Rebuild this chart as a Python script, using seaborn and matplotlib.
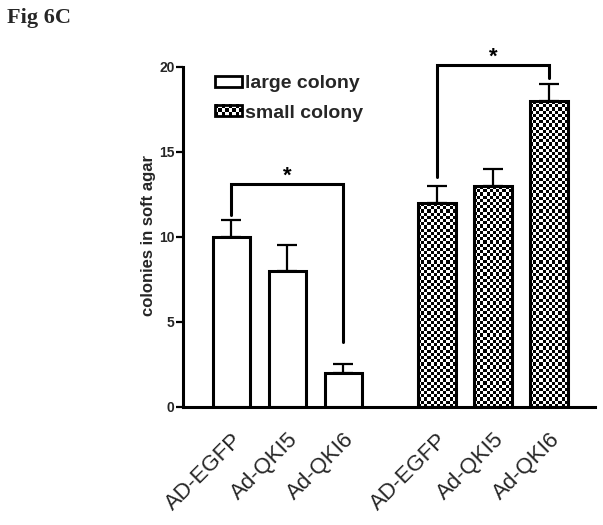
import numpy as np
import matplotlib
matplotlib.use("Agg")
import matplotlib.pyplot as plt
import seaborn as sns
from matplotlib.patches import Patch, Rectangle
from matplotlib.legend_handler import HandlerPatch
from matplotlib.image import BboxImage
from matplotlib.transforms import Bbox, TransformedBbox

sns.set_theme(style="white")
plt.rcParams['font.family'] = ['Liberation Sans', 'DejaVu Sans']

# data
labels = ['AD-EGFP', 'Ad-QKI5', 'Ad-QKI6', 'AD-EGFP', 'Ad-QKI5', 'Ad-QKI6']
groups = ['large colony', 'large colony', 'large colony', 'small colony', 'small colony', 'small colony']
positions = [0, 1, 2, 3.67, 4.67, 5.67]
means = [10, 8, 2, 12, 13, 18]
sem = [1.0, 1.5, 0.5, 1.0, 1.0, 1.0]

# significance brackets: (bar i, bar j, bracket level, leg end i, leg end j)
brackets = [(0, 2, 13.1, 11.3, 3.8), (3, 5, 20.1, 13.5, 19.35)]


def checker(ny, nx):
    return np.add.outer(np.arange(ny), np.arange(nx)) % 2


class CheckerHandler(HandlerPatch):
    def create_artists(self, legend, orig_handle, xdescent, ydescent,
                       width, height, fontsize, trans):
        bb = TransformedBbox(Bbox.from_bounds(-xdescent, -ydescent, width, height), trans)
        img = BboxImage(bb, cmap='gray', interpolation='nearest')
        img.set_data(checker(3, 8))
        rect = Rectangle((-xdescent, -ydescent), width, height, facecolor='none',
                         edgecolor='black', lw=2, transform=trans)
        return [img, rect]


fig = plt.figure(figsize=(6.03, 5.25), dpi=100)
ax = fig.add_axes([0.3035, 0.2248, 0.683, 0.6476])

sns.barplot(x=positions, y=means, native_scale=True, width=0.67, color='white',
            saturation=1, edgecolor='black', linewidth=2.2, errorbar=None, ax=ax)

bars = ax.patches
centers = [p.get_x() + p.get_width() / 2 for p in bars]

ax.errorbar(centers, means, yerr=[np.zeros(len(means)), sem], fmt='none',
            ecolor='black', elinewidth=1.6, capsize=7, capthick=1.6, zorder=1)

xlim = (-0.866, 6.49)
ylim = (0, 20)

# checkerboard fill for the small colony bars
cell_x, cell_y = 3.2 / 56, 3.2 / 17
for p, g in zip(bars, groups):
    if g != 'small colony':
        continue
    x0, w, h = p.get_x(), p.get_width(), p.get_height()
    nx, ny = int(round(w / cell_x)), int(round(h / cell_y))
    im = ax.imshow(checker(ny, nx), cmap='gray', interpolation='nearest', aspect='auto',
                   extent=[x0, x0 + w, 0, h], origin='lower', zorder=2.5)
    im.set_clip_path(p)
    p.set_facecolor('none')
    p.set_zorder(3)

ax.set_xlim(*xlim)
ax.set_ylim(*ylim)

# brackets
for i, j, top, li, lj in brackets:
    xi, xj = centers[i], centers[j]
    ax.plot([xi, xi, xj, xj], [li, top, top, lj], color='black', lw=2.2,
            clip_on=False, solid_joinstyle='miter', zorder=4)
    ax.text((xi + xj) / 2, top + 0.45, '*', ha='center', va='center',
            fontsize=16, fontweight='bold', color='black')

ax.set_xticks(centers)
ax.set_xticklabels(labels, rotation=45, ha='right', rotation_mode='anchor', fontsize=16)
ax.tick_params(axis='x', length=0, pad=16)
ax.set_yticks([0, 5, 10, 15, 20])
ax.set_yticklabels(['0', '5', '10', '15', '20'], fontsize=10, fontweight='bold')
ax.tick_params(axis='y', direction='out', length=5, width=1.6, pad=1, left=True, color='black')
ax.set_ylabel('colonies in soft agar', fontsize=12, fontweight='bold')
ax.yaxis.set_label_coords(-0.0655, 0.504)

for s in ['top', 'right']:
    ax.spines[s].set_visible(False)
for s in ['left', 'bottom']:
    ax.spines[s].set_color('black')
    ax.spines[s].set_linewidth(2.2)
ax.grid(False)

h_large = Patch(facecolor='white', edgecolor='black', lw=2, label='large colony')
h_small = Patch(facecolor='white', edgecolor='black', lw=2, label='small colony')
ax.legend(handles=[h_large, h_small], handler_map={h_small: CheckerHandler()},
          loc='upper left', bbox_to_anchor=(215 / 603, 1 - 75 / 525),
          bbox_transform=fig.transFigure, frameon=False, borderpad=0,
          borderaxespad=0, handlelength=1.4, handleheight=0.5, handletextpad=0.15,
          labelspacing=0.65, prop={'size': 14, 'weight': 'bold'})

fig.text(7 / 603, 1 - 8 / 525, 'Fig 6C', ha='left', va='top', fontsize=16,
         fontweight='bold', family=['Liberation Serif', 'DejaVu Serif'])

fig.savefig('out.png', dpi=100)
